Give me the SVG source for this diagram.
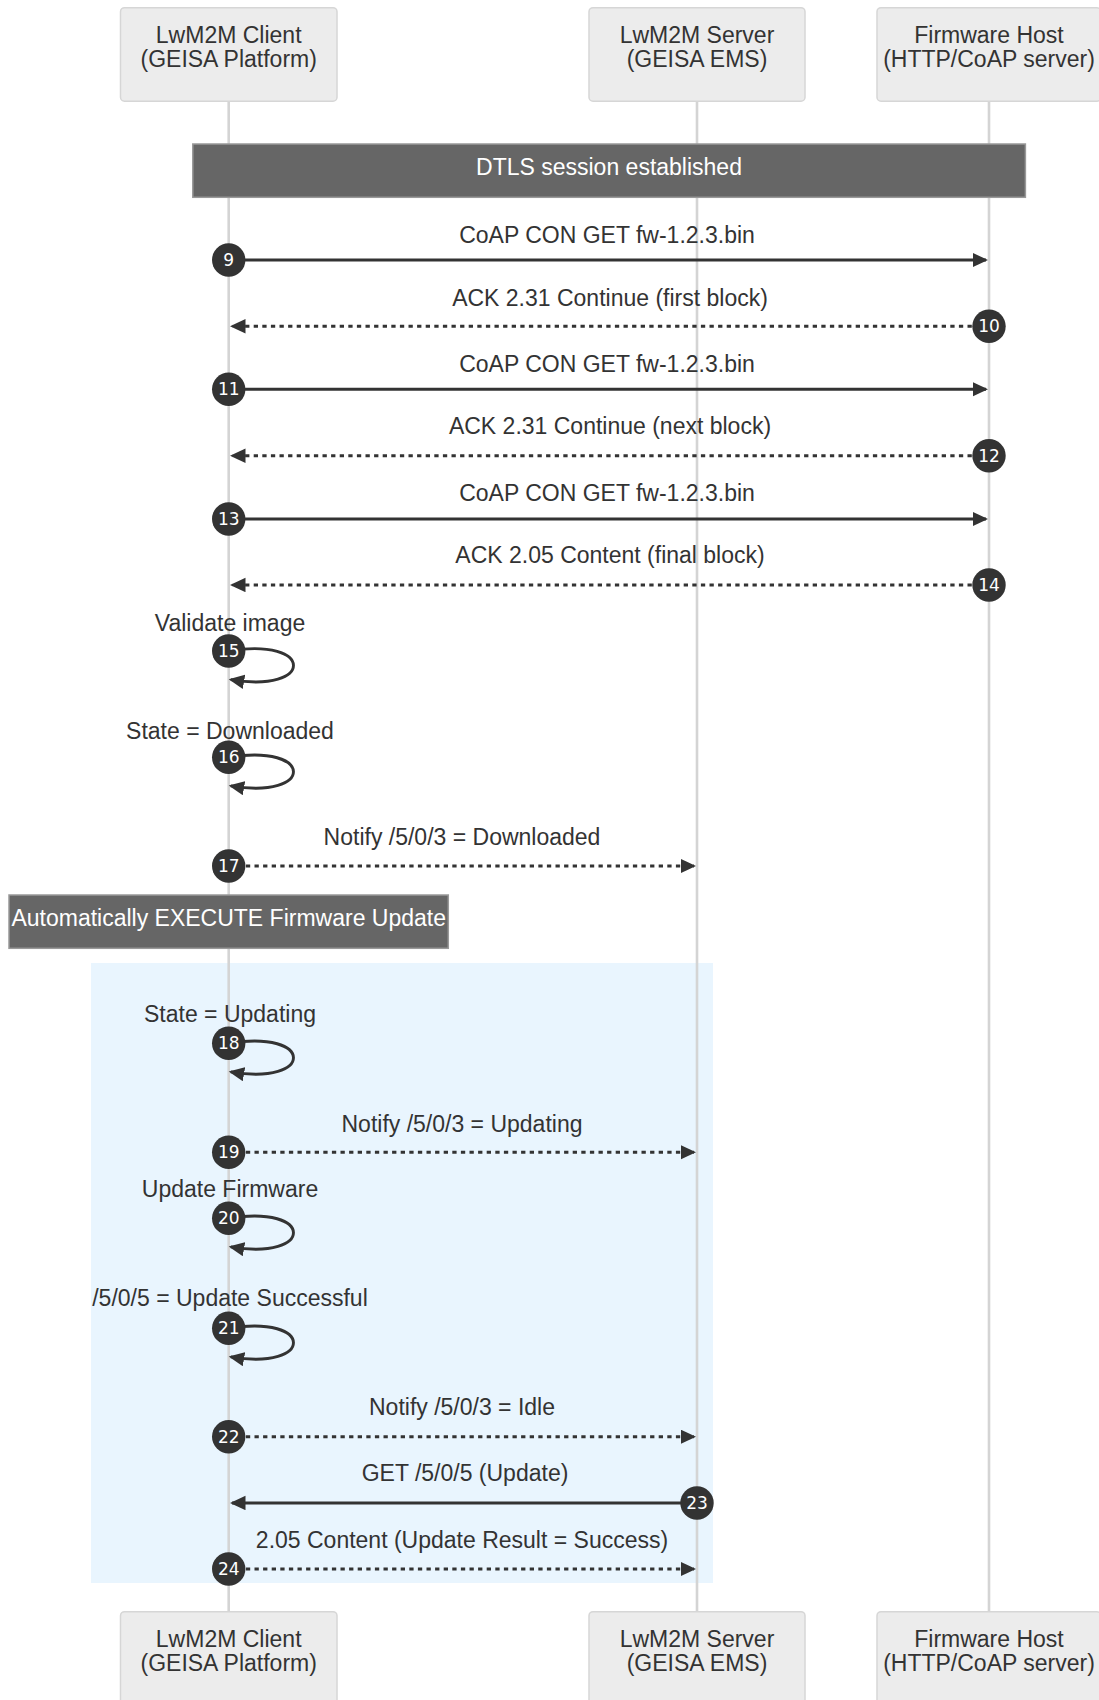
<svg xmlns="http://www.w3.org/2000/svg" width="1099" height="1700" viewBox="0 0 1099 1700">
  <style>
    .actor rect { fill: #ececec; stroke: #d6d6d6; stroke-width: 1.5; }
    .actor text { font-family: "Liberation Sans", Arial, sans-serif; font-size: 23px; fill: #333; text-anchor: middle; }
    .lifeline { stroke: #d4d4d4; stroke-width: 2.6; }
    .note rect { fill: #666; stroke: #999; stroke-width: 1.5; }
    .note text { font-family: "Liberation Sans", Arial, sans-serif; font-size: 23px; fill: #fff; text-anchor: middle; }
    .msg { fill: none; stroke: #333; stroke-width: 2.9; }
    .dashed { stroke-dasharray: 4.3 4.3; }
    .label { font-family: "Liberation Sans", Arial, sans-serif; font-size: 23px; fill: #333; text-anchor: middle; }
    .seq circle { fill: #333; }
    .seq text { font-family: "DejaVu Sans", Verdana, sans-serif; font-size: 17px; fill: #fff; text-anchor: middle; dominant-baseline: central; }
  </style>
  <defs>
    <marker id="arrowhead" markerUnits="userSpaceOnUse" markerWidth="16" markerHeight="15" refX="13.5" refY="7.2" orient="auto">
      <path d="M0,0 L15.5,7.2 L0,14.4 z" fill="#333"/>
    </marker>
  </defs>

  <!-- highlighted update phase -->
  <rect id="update-phase" x="91" y="963" width="622" height="620" fill="#e9f5fe"/>

  <!-- lifelines -->
  <g id="lifelines">
    <line class="lifeline" x1="228.7" y1="101" x2="228.7" y2="1612"/>
    <line class="lifeline" x1="697" y1="101" x2="697" y2="1612"/>
    <line class="lifeline" x1="989" y1="101" x2="989" y2="1612"/>
  </g>

  <!-- participants (top) -->
  <g id="client-top" class="actor">
    <rect x="120.5" y="7.7" width="216.5" height="93.5" rx="4"/>
    <text x="228.7" y="43">LwM2M Client</text>
    <text x="228.7" y="66.5">(GEISA Platform)</text>
  </g>
  <g id="server-top" class="actor">
    <rect x="589" y="7.7" width="216" height="93.5" rx="4"/>
    <text x="697" y="43">LwM2M Server</text>
    <text x="697" y="66.5">(GEISA EMS)</text>
  </g>
  <g id="host-top" class="actor">
    <rect x="877" y="7.7" width="224" height="93.5" rx="4"/>
    <text x="989" y="43">Firmware Host</text>
    <text x="989" y="66.5">(HTTP/CoAP server)</text>
  </g>

  <!-- participants (bottom) -->
  <g id="client-bottom" class="actor">
    <rect x="120.5" y="1611.7" width="216.5" height="93.5" rx="4"/>
    <text x="228.7" y="1647">LwM2M Client</text>
    <text x="228.7" y="1670.5">(GEISA Platform)</text>
  </g>
  <g id="server-bottom" class="actor">
    <rect x="589" y="1611.7" width="216" height="93.5" rx="4"/>
    <text x="697" y="1647">LwM2M Server</text>
    <text x="697" y="1670.5">(GEISA EMS)</text>
  </g>
  <g id="host-bottom" class="actor">
    <rect x="877" y="1611.7" width="224" height="93.5" rx="4"/>
    <text x="989" y="1647">Firmware Host</text>
    <text x="989" y="1670.5">(HTTP/CoAP server)</text>
  </g>

  <!-- notes -->
  <g id="note-dtls" class="note">
    <rect x="192.8" y="144" width="832.6" height="53.3"/>
    <text x="609" y="175">DTLS session established</text>
  </g>
  <g id="note-execute" class="note">
    <rect x="9" y="895" width="439.3" height="53.3"/>
    <text x="228.7" y="926">Automatically EXECUTE Firmware Update</text>
  </g>

  <!-- message arrows -->
  <g id="connectors" marker-end="url(#arrowhead)">
    <line class="msg" x1="228.7" y1="260" x2="986" y2="260"/>
    <line class="msg dashed" x1="989" y1="326.3" x2="232" y2="326.3"/>
    <line class="msg" x1="228.7" y1="389.3" x2="986" y2="389.3"/>
    <line class="msg dashed" x1="989" y1="455.7" x2="232" y2="455.7"/>
    <line class="msg" x1="228.7" y1="519" x2="986" y2="519"/>
    <line class="msg dashed" x1="989" y1="585" x2="232" y2="585"/>
    <path class="msg" d="M228.7,651 C314.7,636.7 314.7,693.9 230.7,679.6"/>
    <path class="msg" d="M228.7,757.3 C314.7,743 314.7,800.2 230.7,785.9"/>
    <line class="msg dashed" x1="228.7" y1="866" x2="694" y2="866"/>
    <path class="msg" d="M228.7,1043.3 C314.7,1029 314.7,1086.2 230.7,1071.9"/>
    <line class="msg dashed" x1="228.7" y1="1152.3" x2="694" y2="1152.3"/>
    <path class="msg" d="M228.7,1218.3 C314.7,1204 314.7,1261.2 230.7,1246.9"/>
    <path class="msg" d="M228.7,1328.3 C314.7,1314 314.7,1371.2 230.7,1356.9"/>
    <line class="msg dashed" x1="228.7" y1="1436.7" x2="694" y2="1436.7"/>
    <line class="msg" x1="697" y1="1503" x2="232" y2="1503"/>
    <line class="msg dashed" x1="228.7" y1="1569" x2="694" y2="1569"/>
  </g>

  <!-- message labels -->
  <g id="message-labels" class="label">
    <text x="607" y="242.5">CoAP CON GET fw-1.2.3.bin</text>
    <text x="610" y="305.7">ACK 2.31 Continue (first block)</text>
    <text x="607" y="371.7">CoAP CON GET fw-1.2.3.bin</text>
    <text x="610" y="434">ACK 2.31 Continue (next block)</text>
    <text x="607" y="500.7">CoAP CON GET fw-1.2.3.bin</text>
    <text x="610" y="563.3">ACK 2.05 Content (final block)</text>
    <text x="230" y="630.5">Validate image</text>
    <text x="230" y="739">State = Downloaded</text>
    <text x="462" y="845">Notify /5/0/3 = Downloaded</text>
    <text x="230" y="1022">State = Updating</text>
    <text x="462" y="1131.7">Notify /5/0/3 = Updating</text>
    <text x="230" y="1196.7">Update Firmware</text>
    <text x="230" y="1305.7">/5/0/5 = Update Successful</text>
    <text x="462" y="1415">Notify /5/0/3 = Idle</text>
    <text x="465" y="1481">GET /5/0/5 (Update)</text>
    <text x="462" y="1548.3">2.05 Content (Update Result = Success)</text>
  </g>

  <!-- sequence numbers -->
  <g id="sequence-numbers" class="seq">
    <g id="seq-9"><circle cx="228.7" cy="260" r="16.7"/><text x="228.7" y="260">9</text></g>
    <g id="seq-10"><circle cx="989" cy="326.3" r="16.7"/><text x="989" y="326.3">10</text></g>
    <g id="seq-11"><circle cx="228.7" cy="389.3" r="16.7"/><text x="228.7" y="389.3">11</text></g>
    <g id="seq-12"><circle cx="989" cy="455.7" r="16.7"/><text x="989" y="455.7">12</text></g>
    <g id="seq-13"><circle cx="228.7" cy="519" r="16.7"/><text x="228.7" y="519">13</text></g>
    <g id="seq-14"><circle cx="989" cy="585" r="16.7"/><text x="989" y="585">14</text></g>
    <g id="seq-15"><circle cx="228.7" cy="651" r="16.7"/><text x="228.7" y="651">15</text></g>
    <g id="seq-16"><circle cx="228.7" cy="757.3" r="16.7"/><text x="228.7" y="757.3">16</text></g>
    <g id="seq-17"><circle cx="228.7" cy="866" r="16.7"/><text x="228.7" y="866">17</text></g>
    <g id="seq-18"><circle cx="228.7" cy="1043.3" r="16.7"/><text x="228.7" y="1043.3">18</text></g>
    <g id="seq-19"><circle cx="228.7" cy="1152.3" r="16.7"/><text x="228.7" y="1152.3">19</text></g>
    <g id="seq-20"><circle cx="228.7" cy="1218.3" r="16.7"/><text x="228.7" y="1218.3">20</text></g>
    <g id="seq-21"><circle cx="228.7" cy="1328.3" r="16.7"/><text x="228.7" y="1328.3">21</text></g>
    <g id="seq-22"><circle cx="228.7" cy="1436.7" r="16.7"/><text x="228.7" y="1436.7">22</text></g>
    <g id="seq-23"><circle cx="697" cy="1503" r="16.7"/><text x="697" y="1503">23</text></g>
    <g id="seq-24"><circle cx="228.7" cy="1569" r="16.7"/><text x="228.7" y="1569">24</text></g>
  </g>
</svg>
